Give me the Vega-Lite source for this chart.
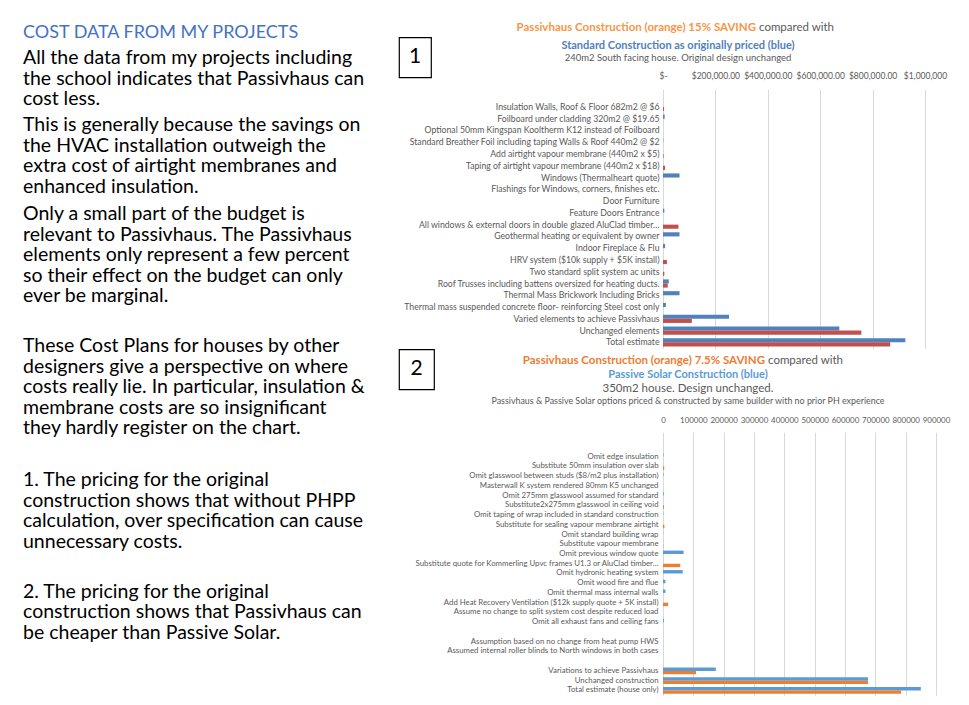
{
  "$schema": "https://vega.github.io/schema/vega-lite/v6.json",
  "background": "white",
  "padding": {"left": 23, "top": 21.25, "right": 5, "bottom": 5},
  "config": {
    "view": {"stroke": null},
    "font": "Lato",
    "title": {"font": "Lato"},
    "axis": {"labelFont": "Lato"}
  },
  "resolve": {"scale": {"color": "independent", "yOffset": "independent", "x": "independent", "y": "independent"}},
  "datasets": {
    "c1": [
      {"item": "Insulation Walls, Roof & Floor 682m2 @ $6", "series": "Passivhaus", "cost": 4092},
      {"item": "Foilboard under cladding 320m2 @ $19.65", "series": "Standard", "cost": 6288},
      {"item": "Standard Breather Foil including taping Walls & Roof 440m2 @ $2", "series": "Standard", "cost": 880},
      {"item": "Add airtight vapour membrane (440m2 x $5)", "series": "Passivhaus", "cost": 2200},
      {"item": "Taping of airtight vapour membrane (440m2 x $18)", "series": "Passivhaus", "cost": 7920},
      {"item": "Windows (Thermalheart quote)", "series": "Standard", "cost": 63000},
      {"item": "Feature Doors Entrance", "series": "Standard", "cost": 5000},
      {"item": "All windows & external doors in double glazed AluClad timber…", "series": "Passivhaus", "cost": 59000},
      {"item": "Geothermal heating or equivalent by owner", "series": "Standard", "cost": 63000},
      {"item": "Indoor Fireplace & Flu", "series": "Standard", "cost": 8000},
      {"item": "HRV system ($10k supply + $5K install)", "series": "Passivhaus", "cost": 15000},
      {"item": "Two standard split system ac units", "series": "Passivhaus", "cost": 5000},
      {"item": "Roof Trusses including battens oversized for heating ducts.", "series": "Standard", "cost": 22000},
      {"item": "Roof Trusses including battens oversized for heating ducts.", "series": "Passivhaus", "cost": 18000},
      {"item": "Thermal Mass Brickwork Including Bricks", "series": "Standard", "cost": 63000},
      {"item": "Thermal mass suspended concrete floor- reinforcing  Steel cost only", "series": "Standard", "cost": 11000},
      {"item": "Varied elements to achieve Passivhaus", "series": "Standard", "cost": 252000},
      {"item": "Varied elements to achieve Passivhaus", "series": "Passivhaus", "cost": 110000},
      {"item": "Unchanged elements", "series": "Standard", "cost": 673000},
      {"item": "Unchanged elements", "series": "Passivhaus", "cost": 757000},
      {"item": "Total estimate", "series": "Standard", "cost": 925000},
      {"item": "Total estimate", "series": "Passivhaus", "cost": 867000}
    ],
    "c2": [
      {"item": "Omit edge insulation", "series": "Passive Solar", "cost": 1500},
      {"item": "Substitute 50mm insulation over slab", "series": "Passivhaus", "cost": 4000},
      {"item": "Omit glasswool between studs ($8/m2 plus installation)", "series": "Passive Solar", "cost": 1500},
      {"item": "Omit 275mm glasswool assumed for standard", "series": "Passive Solar", "cost": 2500},
      {"item": "Substitute2x275mm glasswool in ceiling void", "series": "Passivhaus", "cost": 3500},
      {"item": "Omit taping of wrap included in standard construction", "series": "Passive Solar", "cost": 1000},
      {"item": "Substitute for sealing vapour membrane airtight", "series": "Passivhaus", "cost": 4500},
      {"item": "Omit standard building wrap", "series": "Passive Solar", "cost": 500},
      {"item": "Substitute vapour membrane", "series": "Passivhaus", "cost": 1000},
      {"item": "Omit previous window quote", "series": "Passive Solar", "cost": 68000},
      {"item": "Substitute quote for Kommerling Upvc frames U1.3 or AluClad timber…", "series": "Passivhaus", "cost": 57000},
      {"item": "Omit hydronic heating system", "series": "Passive Solar", "cost": 65000},
      {"item": "Omit wood fire and flue", "series": "Passive Solar", "cost": 8000},
      {"item": "Omit thermal mass internal walls", "series": "Passive Solar", "cost": 8000},
      {"item": "Add Heat Recovery Ventilation  ($12k supply quote + 5K install)", "series": "Passivhaus", "cost": 17000},
      {"item": "Omit all exhaust fans and ceiling fans", "series": "Passive Solar", "cost": 3000},
      {"item": "Variations to achieve Passivhaus", "series": "Passive Solar", "cost": 174000},
      {"item": "Variations to achieve Passivhaus", "series": "Passivhaus", "cost": 109000},
      {"item": "Unchanged construction", "series": "Passive Solar", "cost": 676000},
      {"item": "Unchanged construction", "series": "Passivhaus", "cost": 676000},
      {"item": "Total estimate (house only)", "series": "Passive Solar", "cost": 850000},
      {"item": "Total estimate (house only)", "series": "Passivhaus", "cost": 785000}
    ]
  },
  "spacing": -34,
  "hconcat": [
    {
      "spacing": 15,
      "hconcat": [
        {
          "spacing": 0,
          "vconcat": [
            {"width": 360, "height": 14.75, "data": {"values": []}, "mark": "point", "encoding": {},
             "title": {"text": "COST DATA FROM MY PROJECTS", "anchor": "start", "frame": "group", "fontSize": 18, "fontWeight": "normal", "color": "#4472C4", "offset": -8.25}},
            {"width": 360, "height": 1, "data": {"values": []}, "mark": "point", "encoding": {},
             "title": {"text": ["All the data from my projects including", "the school indicates that Passivhaus can", "cost less."], "anchor": "start", "frame": "group", "fontSize": 19.5, "fontWeight": "normal", "color": "#000000", "lineHeight": 20.5, "offset": 4.5}},
            {"width": 360, "height": 1, "data": {"values": []}, "mark": "point", "encoding": {},
             "title": {"text": ["This is generally because the savings on", "the HVAC installation outweigh the", "extra cost of airtight membranes and", "enhanced insulation."], "anchor": "start", "frame": "group", "fontSize": 19.5, "fontWeight": "normal", "color": "#000000", "lineHeight": 20.5, "offset": 6}},
            {"width": 360, "height": 1, "data": {"values": []}, "mark": "point", "encoding": {},
             "title": {"text": ["Only a small part of the budget is", "relevant to Passivhaus. The Passivhaus", "elements only represent a few percent", "so their effect on the budget can only", "ever be marginal."], "anchor": "start", "frame": "group", "fontSize": 19.5, "fontWeight": "normal", "color": "#000000", "lineHeight": 20.5, "offset": 28.5}},
            {"width": 360, "height": 1, "data": {"values": []}, "mark": "point", "encoding": {},
             "title": {"text": ["These Cost Plans for houses by other", "designers give a perspective on where", "costs really lie. In particular, insulation &", "membrane costs are so insignificant", "they hardly register on the chart."], "anchor": "start", "frame": "group", "fontSize": 19.5, "fontWeight": "normal", "color": "#000000", "lineHeight": 20.5, "offset": 30.5}},
            {"width": 360, "height": 1, "data": {"values": []}, "mark": "point", "encoding": {},
             "title": {"text": ["1. The pricing for the original", "construction shows that without PHPP", "calculation, over specification can cause", "unnecessary costs."], "anchor": "start", "frame": "group", "fontSize": 19.5, "fontWeight": "normal", "color": "#000000", "lineHeight": 20.5, "offset": 28}},
            {"width": 360, "height": 1, "data": {"values": []}, "mark": "point", "encoding": {},
             "title": {"text": ["2. The pricing for the original", "construction shows that Passivhaus can", "be cheaper than Passive Solar."], "anchor": "start", "frame": "group", "fontSize": 19.5, "fontWeight": "normal", "color": "#000000", "lineHeight": 20.5, "offset": 0}}
          ]
        },
        {
          "spacing": 0,
          "vconcat": [
            {"width": 32, "height": 2.25, "data": {"values": []}, "mark": "point", "encoding": {}},
            {"width": 32, "height": 40, "view": {"stroke": "#000000", "strokeWidth": 1.2},
             "data": {"values": [{"n": "1"}]},
             "mark": {"type": "text", "fontSize": 21, "font": "Lato", "color": "#000000"},
             "encoding": {"text": {"field": "n"}, "x": {"field": "n", "type": "nominal", "axis": null}, "y": {"field": "n", "type": "nominal", "axis": null}}},
            {"width": 32, "height": 270, "data": {"values": []}, "mark": "point", "encoding": {}},
            {"width": 35, "height": 40, "view": {"stroke": "#000000", "strokeWidth": 1.2},
             "data": {"values": [{"n": "2"}]},
             "mark": {"type": "text", "fontSize": 21, "font": "Lato", "color": "#000000"},
             "encoding": {"text": {"field": "n"}, "x": {"field": "n", "type": "nominal", "axis": null}, "y": {"field": "n", "type": "nominal", "axis": null}}}
          ]
        }
      ]
    },
    {
      "spacing": 0,
      "resolve": {"scale": {"color": "independent", "yOffset": "independent", "x": "independent", "y": "independent"}},
      "vconcat": [
        {
          "spacing": 3,
          "hconcat": [
            {"width": 93, "height": 6, "data": {"values": []}, "mark": "point", "encoding": {},
             "title": {"text": "Passivhaus Construction (orange) 15% SAVING", "anchor": "end", "frame": "group", "fontSize": 11.5, "fontWeight": "bold", "color": "#F79646", "offset": 0}},
            {"width": 1, "height": 6, "data": {"values": []}, "mark": "point", "encoding": {},
             "title": {"text": "compared with", "anchor": "start", "frame": "group", "fontSize": 11.5, "fontWeight": "normal", "color": "#595959", "offset": 0}}
          ]
        },
        {"width": 30, "height": 1, "data": {"values": []}, "mark": "point", "encoding": {},
         "title": {"text": "Standard Construction as originally priced (blue)", "subtitle": "240m2 South facing house. Original design unchanged", "anchor": "middle", "frame": "group", "fontSize": 11, "fontWeight": "bold", "color": "#4F81BD", "subtitleFontSize": 9.5, "subtitleColor": "#595959", "subtitleFont": "Lato", "subtitlePadding": 2.5, "offset": 7.75}},
        {
          "width": 262,
          "height": 259,
          "data": {"name": "c1"},
          "mark": {"type": "bar"},
          "encoding": {
            "y": {"field": "item", "type": "nominal",
              "scale": {"domain": [" ", "Insulation Walls, Roof & Floor 682m2 @ $6", "Foilboard under cladding 320m2 @ $19.65", "Optional 50mm Kingspan Kooltherm K12 instead of Foilboard", "Standard Breather Foil including taping Walls & Roof 440m2 @ $2", "Add airtight vapour membrane (440m2 x $5)", "Taping of airtight vapour membrane (440m2 x $18)", "Windows (Thermalheart quote)", "Flashings for Windows, corners, finishes etc.", "Door Furniture", "Feature Doors Entrance", "All windows & external doors in double glazed AluClad timber…", "Geothermal heating or equivalent by owner", "Indoor Fireplace & Flu", "HRV system ($10k supply + $5K install)", "Two standard split system ac units", "Roof Trusses including battens oversized for heating ducts.", "Thermal Mass Brickwork Including Bricks", "Thermal mass suspended concrete floor- reinforcing  Steel cost only", "Varied elements to achieve Passivhaus", "Unchanged elements", "Total estimate"], "paddingInner": 0.3, "paddingOuter": 0.15},
              "axis": {"title": null, "ticks": false, "domain": false, "labelColor": "#595959", "labelFontSize": 8.7, "labelPadding": 4, "labelLimit": 300, "minExtent": 262}},
            "x": {"field": "cost", "type": "quantitative",
              "scale": {"domain": [0, 1000000], "nice": false},
              "axis": {"orient": "top", "title": null, "values": [0, 200000, 400000, 600000, 800000, 1000000], "labelExpr": "datum.value == 0 ? '$-' : datum.value == 1000000 ? '$1,000,000' : format(datum.value, '$,.2f')", "domain": false, "ticks": false, "grid": true, "gridColor": "#D9D9D9", "labelColor": "#595959", "labelFontSize": 8.5, "labelPadding": 9, "labelFlush": false, "labelOverlap": false}},
            "yOffset": {"field": "series", "type": "nominal", "scale": {"domain": ["Standard", "Passivhaus"]}},
            "color": {"field": "series", "type": "nominal", "scale": {"domain": ["Standard", "Passivhaus"], "range": ["#4F81BD", "#C0504D"]}, "legend": null}
          }
        },
        {"width": 1, "height": 6, "data": {"values": []}, "mark": "point", "encoding": {}},
        {
          "spacing": 3,
          "hconcat": [
            {"width": 102, "height": 2.75, "data": {"values": []}, "mark": "point", "encoding": {},
             "title": {"text": "Passivhaus Construction (orange) 7.5% SAVING", "anchor": "end", "frame": "group", "fontSize": 11.5, "fontWeight": "bold", "color": "#ED7D31", "offset": 0}},
            {"width": 1, "height": 2.75, "data": {"values": []}, "mark": "point", "encoding": {},
             "title": {"text": "compared with", "anchor": "start", "frame": "group", "fontSize": 11.5, "fontWeight": "normal", "color": "#595959", "offset": 0}}
          ]
        },
        {"width": 50, "height": 1, "data": {"values": []}, "mark": "point", "encoding": {},
         "title": {"text": "Passive Solar Construction (blue)", "subtitle": "350m2 house. Design unchanged.", "anchor": "middle", "frame": "group", "fontSize": 11, "fontWeight": "bold", "color": "#5B9BD5", "subtitleFontSize": 11.5, "subtitleColor": "#595959", "subtitleFont": "Lato", "subtitlePadding": 2.5, "offset": 1}},
        {"width": 50, "height": 1, "data": {"values": []}, "mark": "point", "encoding": {},
         "title": {"text": "Passivhaus & Passive Solar options priced & constructed by same builder with no prior PH experience", "anchor": "middle", "frame": "group", "fontSize": 8.9, "fontWeight": "normal", "color": "#595959", "offset": 9.2}},
        {
          "width": 273,
          "height": 263,
          "data": {"name": "c2"},
          "mark": {"type": "bar"},
          "encoding": {
            "y": {"field": "item", "type": "nominal",
              "scale": {"domain": [" ", "  ", "Omit edge insulation", "Substitute 50mm insulation over slab", "Omit glasswool between studs ($8/m2 plus installation)", "Masterwall K system rendered 80mm K5 unchanged", "Omit 275mm glasswool assumed for standard", "Substitute2x275mm glasswool in ceiling void", "Omit taping of wrap included in standard construction", "Substitute for sealing vapour membrane airtight", "Omit standard building wrap", "Substitute vapour membrane", "Omit previous window quote", "Substitute quote for Kommerling Upvc frames U1.3 or AluClad timber…", "Omit hydronic heating system", "Omit wood fire and flue", "Omit thermal mass internal walls", "Add Heat Recovery Ventilation  ($12k supply quote + 5K install)", "Assume no change to split system cost despite reduced load", "Omit all exhaust fans and ceiling fans", "   ", "Assumption based on no change from heat pump HWS", "Assumed internal roller blinds to North windows in both cases", "    ", "Variations to achieve Passivhaus", "Unchanged construction", "Total estimate (house only)"], "paddingInner": 0.3, "paddingOuter": 0.15},
              "axis": {"title": null, "ticks": false, "domain": false, "labelColor": "#595959", "labelFontSize": 7.8, "labelPadding": 5, "labelLimit": 300, "minExtent": 262}},
            "x": {"field": "cost", "type": "quantitative",
              "scale": {"domain": [0, 900000], "nice": false},
              "axis": {"orient": "top", "title": null, "values": [0, 100000, 200000, 300000, 400000, 500000, 600000, 700000, 800000, 900000], "format": "d", "domain": false, "ticks": false, "grid": true, "gridColor": "#D9D9D9", "labelColor": "#595959", "labelFontSize": 7.9, "labelPadding": 7.45, "labelFlush": false, "labelOverlap": false}},
            "yOffset": {"field": "series", "type": "nominal", "scale": {"domain": ["Passive Solar", "Passivhaus"]}},
            "color": {"field": "series", "type": "nominal", "scale": {"domain": ["Passive Solar", "Passivhaus"], "range": ["#5B9BD5", "#ED7D31"]}, "legend": null}
          }
        }
      ]
    }
  ]
}
